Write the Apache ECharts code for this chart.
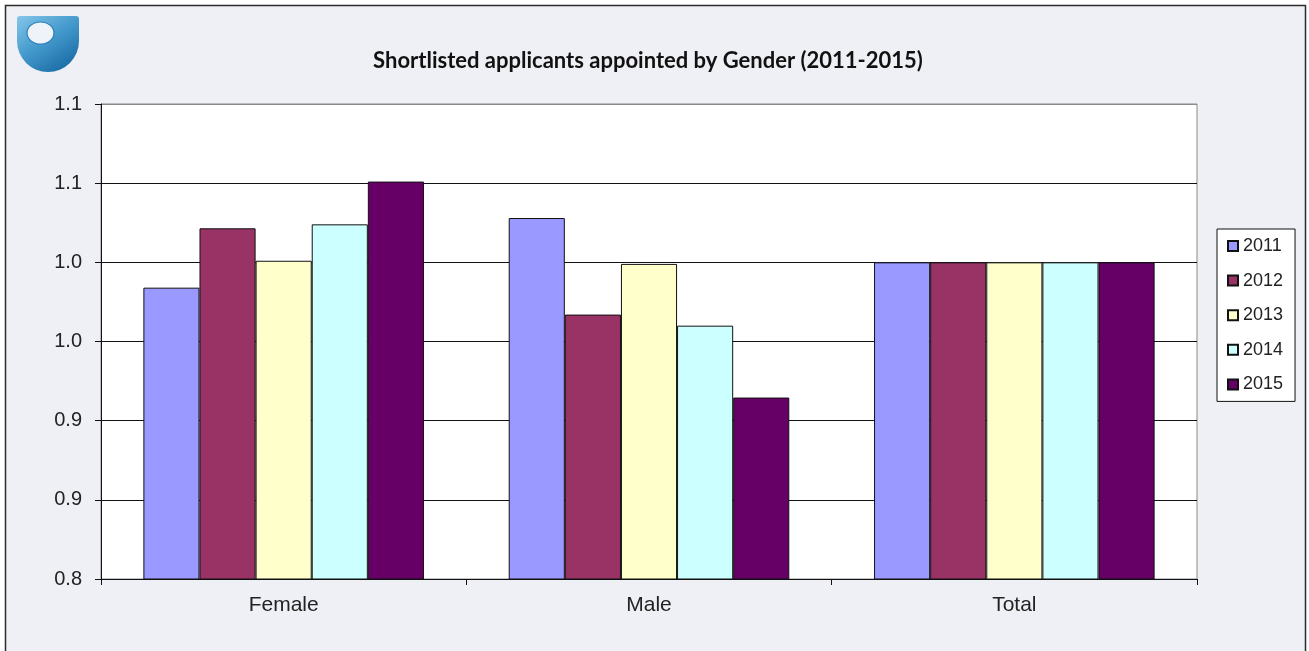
<!DOCTYPE html>
<html>
<head>
<meta charset="utf-8">
<title>Shortlisted applicants appointed by Gender (2011-2015)</title>
<script src="https://cdn.jsdelivr.net/npm/echarts@6/dist/echarts.min.js"></script>
<style>
  html, body { margin: 0; padding: 0; background: #ffffff; }
  #chart { width: 1309px; height: 651px; }
</style>
</head>
<body>
<div id="chart"></div>
<script>
// Categories along the x axis
const categories = ['Female', 'Male', 'Total'];

// One series per year: appointment ratio per category
const years = ['2011', '2012', '2013', '2014', '2015'];
const values2011 = [0.984, 1.028, 1.0];
const values2012 = [1.0215, 0.967, 1.0];
const values2013 = [1.001, 0.999, 1.0];
const values2014 = [1.024, 0.960, 1.0];
const values2015 = [1.051, 0.9146, 1.0];

// Y tick labels, rounded to one decimal (0.80, 0.85, ... 1.10)
const yTickLabels = ['0.8', '0.9', '0.9', '1.0', '1.0', '1.1', '1.1'];

const seriesValues = [values2011, values2012, values2013, values2014, values2015];
const seriesColors = ['#9999FF', '#993366', '#FFFFCC', '#CCFFFF', '#660066'];

const chart = echarts.init(document.getElementById('chart'), null, { renderer: 'canvas' });

const series = years.map((y, i) => ({
  name: y,
  type: 'bar',
  data: seriesValues[i],
  barGap: '0%',
  barCategoryGap: '23.2%',
  itemStyle: { color: seriesColors[i], borderColor: '#111', borderWidth: 1 },
  emphasis: { disabled: true },
  animation: false
}));

const option = {
  animation: false,
  backgroundColor: '#ffffff',
  graphic: [
    // outer frame
    {
      type: 'rect', z: -10, silent: true,
      shape: { x: 5.5, y: 5.5, width: 1300, height: 700 },
      style: { fill: '#eff0f5', stroke: '#2a2a2a', lineWidth: 1.5 }
    },
    // logo shield: square top, round bottom
    {
      type: 'rect', z: 5, silent: true,
      shape: { x: 17, y: 16, width: 62, height: 56, r: [3, 3, 31, 31] },
      style: {
        fill: {
          type: 'linear', x: 0, y: 0, x2: 0.6, y2: 1,
          colorStops: [
            { offset: 0, color: '#84c6ea' },
            { offset: 0.55, color: '#4399cc' },
            { offset: 1, color: '#2072aa' }
          ]
        }
      }
    },
    // logo eye
    {
      type: 'circle', z: 6, silent: true,
      x: 40.5, y: 33, scaleX: 13.5 / 11, scaleY: 1,
      shape: { cx: 0, cy: 0, r: 11 },
      style: { fill: '#eef3fa', stroke: '#2c7fb8', lineWidth: 1 }
    }
  ],
  title: {
    text: 'Shortlisted applicants appointed by Gender (2011-2015)',
    left: 643,
    top: 45,
    textAlign: 'center',
    textStyle: {
      fontFamily: 'Lato',
      fontWeight: 'bold',
      fontSize: 22,
      color: '#111'
    }
  },
  legend: {
    orient: 'vertical',
    left: 1217,
    top: 229,
    data: years,
    icon: 'rect',
    itemWidth: 10,
    itemHeight: 10,
    itemGap: 16.6,
    padding: [8, 12, 8, 10],
    backgroundColor: '#ffffff',
    borderColor: '#111',
    borderWidth: 1,
    borderRadius: 0,
    selectedMode: false,
    textStyle: {
      fontFamily: 'Liberation Sans, Arial, sans-serif',
      fontSize: 18,
      color: '#222',
      lineHeight: 18
    }
  },
  grid: {
    left: 101,
    right: 112,
    top: 104,
    bottom: 72,
    show: true,
    backgroundColor: '#ffffff',
    borderColor: '#8a8a8a',
    borderWidth: 1,
    containLabel: false
  },
  xAxis: {
    type: 'category',
    data: categories,
    axisLine: { show: true, lineStyle: { color: '#111', width: 1 } },
    axisTick: { show: true, interval: 0, length: 6, inside: false, lineStyle: { color: '#111' } },
    axisLabel: {
      margin: 16,
      fontFamily: 'Liberation Sans, Arial, sans-serif',
      fontSize: 21,
      color: '#222'
    },
    splitLine: { show: false }
  },
  yAxis: {
    type: 'value',
    min: 0.8,
    max: 1.1,
    interval: 0.05,
    axisLine: { show: true, lineStyle: { color: '#111', width: 1 } },
    axisTick: { show: true, length: 6, inside: false, lineStyle: { color: '#111' } },
    axisLabel: {
      margin: 19,
      fontFamily: 'Liberation Sans, Arial, sans-serif',
      fontSize: 20,
      color: '#222',
      formatter: (v, idx) => yTickLabels[idx] !== undefined ? yTickLabels[idx] : v.toFixed(1)
    },
    splitLine: {
      show: true,
      lineStyle: {
        color: ['#111', '#111', '#111', '#111', '#111', '#111', '#8a8a8a'],
        width: 1
      }
    }
  },
  tooltip: { show: false },
  series: series
};

chart.setOption(option);
</script>
</body>
</html>
